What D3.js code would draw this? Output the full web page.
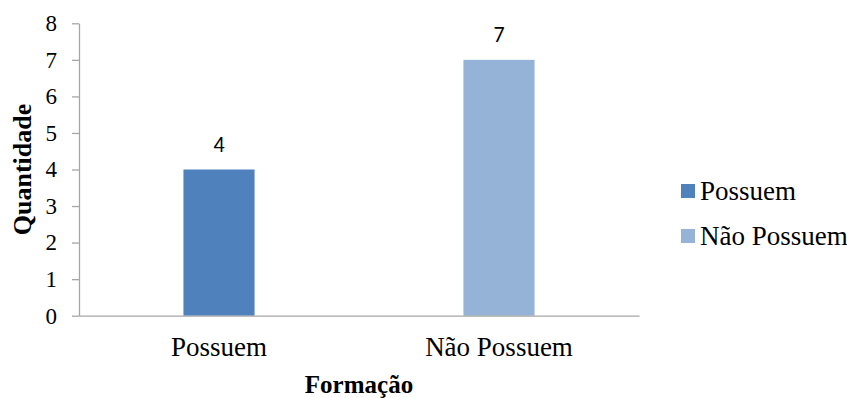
<!DOCTYPE html>
<html>
<head>
<meta charset="utf-8">
<script src="https://cdn.jsdelivr.net/npm/d3@7"></script>
<style>
  html, body { margin: 0; padding: 0; background: #fff; }
  svg { display: block; }
</style>
</head>
<body>
<svg id="chart" width="847" height="398"></svg>
<script>
const categories = ["Possuem", "Não Possuem"];
const values = [4, 7];
const colors = ["#4F81BD", "#95B3D7"];
const yTicks = [0, 1, 2, 3, 4, 5, 6, 7, 8];
const yTitle = "Quantidade";
const xTitle = "Formação";

const svg = d3.select("#chart");
const plot = { left: 79, right: 639, top: 23.3, bottom: 315.7 };
const serif = "'Liberation Serif', 'Times New Roman', serif";
const sans = "Carlito, 'Liberation Sans', Arial, sans-serif";
const axisColor = "#A6A6A6";

const x = d3.scaleBand().domain(categories).range([plot.left, plot.right]).padding(0);
const y = d3.scaleLinear().domain([0, 8]).range([plot.bottom, plot.top]);
const barW = x.bandwidth() * 0.254;

// Bars
svg.append("g").selectAll("rect")
  .data(categories)
  .join("rect")
  .attr("x", (d) => x(d) + x.bandwidth() / 2 - barW / 2)
  .attr("y", (d, i) => y(values[i]))
  .attr("width", barW)
  .attr("height", (d, i) => y(0) - y(values[i]))
  .attr("fill", (d, i) => colors[i]);

// Value labels
svg.append("g").selectAll("text")
  .data(categories)
  .join("text")
  .attr("x", (d) => x(d) + x.bandwidth() / 2)
  .attr("y", (d, i) => y(values[i]) - 18)
  .attr("text-anchor", "middle")
  .attr("font-family", sans)
  .attr("font-size", 22)
  .attr("fill", "#000")
  .text((d, i) => values[i]);

// Y axis
const yAxis = svg.append("g")
  .attr("transform", `translate(${plot.left},0)`)
  .call(d3.axisLeft(y).tickValues(yTicks).tickSize(7).tickPadding(15).tickSizeOuter(0));
yAxis.select(".domain").attr("stroke", axisColor).attr("stroke-width", 1.3);
yAxis.selectAll(".tick line").attr("stroke", axisColor).attr("stroke-width", 1.3);
yAxis.selectAll(".tick text")
  .attr("font-family", serif).attr("font-size", 23).attr("fill", "#000");

// X axis
const xAxis = svg.append("g")
  .attr("transform", `translate(0,${plot.bottom})`)
  .call(d3.axisBottom(x).tickSize(0).tickPadding(21).tickSizeOuter(0));
xAxis.select(".domain").attr("stroke", axisColor).attr("stroke-width", 1.3);
xAxis.selectAll(".tick text")
  .attr("font-family", serif).attr("font-size", 27).attr("fill", "#000");

// Axis titles
svg.append("text")
  .attr("transform", `translate(31,${(plot.top + plot.bottom) / 2}) rotate(-90)`)
  .attr("text-anchor", "middle")
  .attr("font-family", serif).attr("font-size", 26).attr("font-weight", "bold")
  .text(yTitle);

svg.append("text")
  .attr("x", (plot.left + plot.right) / 2)
  .attr("y", 393)
  .attr("text-anchor", "middle")
  .attr("font-family", serif).attr("font-size", 25).attr("font-weight", "bold")
  .text(xTitle);

// Legend
const legend = svg.append("g").selectAll("g")
  .data(categories)
  .join("g")
  .attr("transform", (d, i) => `translate(681,${184 + i * 45})`);
legend.append("rect").attr("width", 14).attr("height", 14).attr("fill", (d, i) => colors[i]);
legend.append("text")
  .attr("x", 19).attr("y", 16)
  .attr("font-family", serif).attr("font-size", 27).attr("fill", "#000")
  .text((d) => d);
</script>
</body>
</html>
